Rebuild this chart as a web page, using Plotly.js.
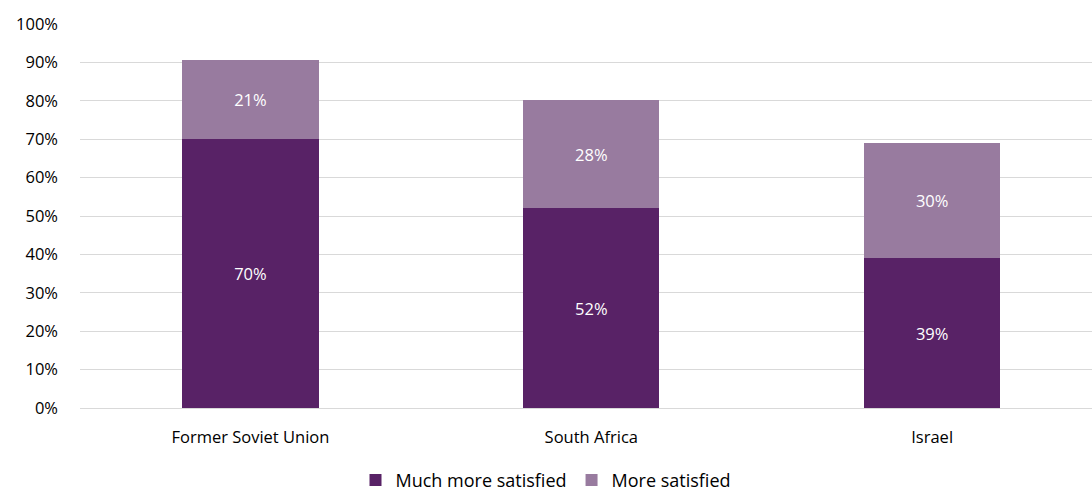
<!DOCTYPE html>
<html>
<head>
<meta charset="utf-8">
<script src="https://cdn.plot.ly/plotly-3.0.1.min.js"></script>
<style>html,body{margin:0;padding:0;background:#fff;overflow:hidden}</style>
</head>
<body>
<div id="chart" style="width:1092px;height:493px"></div>
<script>
var categories = ["Former Soviet Union", "South Africa", "Israel"];
var muchMoreSatisfied = [0.70, 0.52, 0.39];
var moreSatisfied = [0.206, 0.282, 0.30];
var yTickVals = [0, 0.1, 0.2, 0.3, 0.4, 0.5, 0.6, 0.7, 0.8, 0.9, 1.0];
var yTickText = ["0%", "10%", "20%", "30%", "40%", "50%", "60%", "70%", "80%", "90%", "100%"];

var FONT = "'Open Sans', Lato, sans-serif";
var FS = 16.5;

var traces = [
  {
    type: "bar", name: "Much more satisfied", x: categories, y: muchMoreSatisfied,
    marker: {color: "#582266"},
    texttemplate: "%{y:.0%}", textposition: "inside", insidetextanchor: "middle",
    textfont: {color: "#ffffff", size: FS, family: FONT},
    hoverinfo: "skip"
  },
  {
    type: "bar", name: "More satisfied", x: categories, y: moreSatisfied,
    marker: {color: "#987b9f"},
    texttemplate: "%{y:.0%}", textposition: "inside", insidetextanchor: "middle",
    textfont: {color: "#ffffff", size: FS, family: FONT},
    hoverinfo: "skip"
  }
];

var layout = {
  width: 1092, height: 493,
  margin: {l: 79.5, r: 0, t: 24, b: 85, autoexpand: false},
  paper_bgcolor: "#ffffff", plot_bgcolor: "#ffffff",
  barmode: "stack", bargap: 0.6,
  font: {family: FONT, size: FS, color: "#000000"},
  showlegend: true,
  legend: {orientation: "h", x: 0.5, xref: "container", xanchor: "center",
           y: -0.188, yref: "paper", yanchor: "middle",
           font: {size: 18, family: FONT}, traceorder: "normal",
           itemwidth: 30, tracegroupgap: 0},
  xaxis: {range: [-0.5, 2.469], showgrid: false, zeroline: false, showline: false,
          ticks: "", ticklabelstandoff: 17, tickfont: {size: FS, family: FONT}, fixedrange: true},
  yaxis: {range: [0, 1], tickvals: yTickVals, ticktext: yTickText,
          showgrid: true, gridcolor: "#d9d9d9", gridwidth: 1,
          zeroline: true, zerolinecolor: "#d9d9d9", zerolinewidth: 1,
          showline: false, ticks: "", ticklabelstandoff: 21,
          tickfont: {size: FS, family: FONT}, fixedrange: true}
};

Plotly.newPlot("chart", traces, layout, {displayModeBar: false, staticPlot: true});
</script>
</body>
</html>
